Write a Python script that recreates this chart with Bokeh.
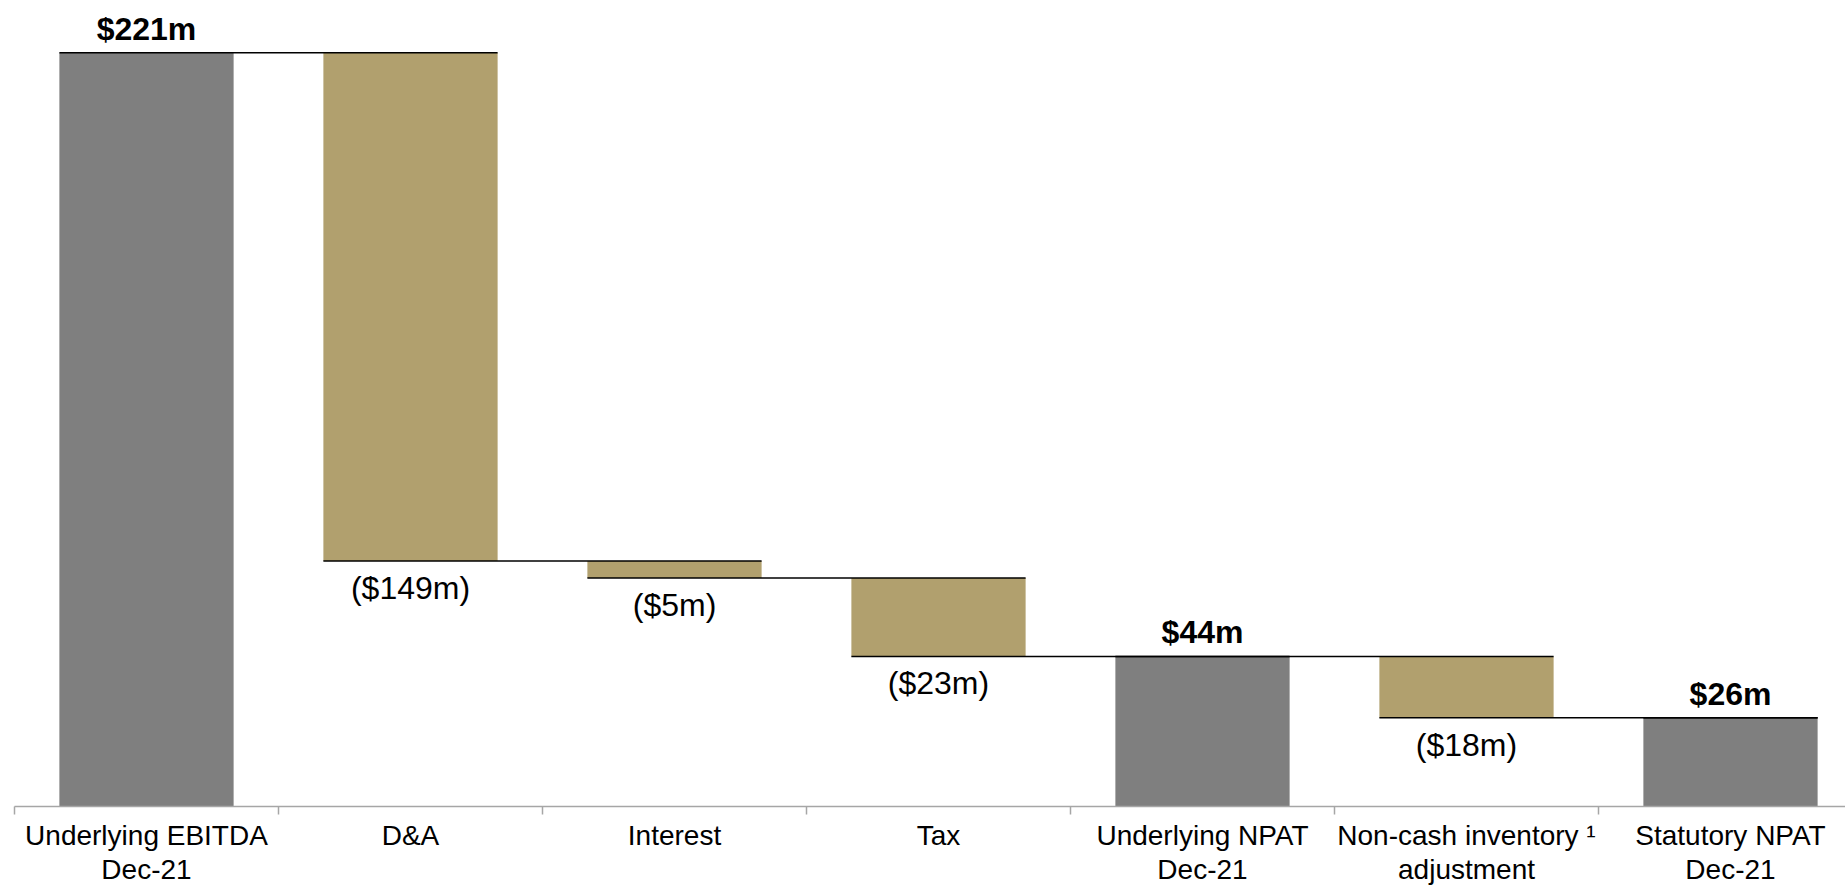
from bokeh.plotting import figure
from bokeh.models import Range1d, FixedTicker, ColumnDataSource
from bokeh.embed import file_html
from bokeh.resources import INLINE
from bokeh.core.properties import value

# ---- data ----
categories = [
    "Underlying EBITDA\nDec-21",
    "D&A",
    "Interest",
    "Tax",
    "Underlying NPAT\nDec-21",
    "Non-cash inventory \u00b9\nadjustment",
    "Statutory NPAT\nDec-21",
]
values = [221, -149, -5, -23, 44, -18, 26]
is_total = [True, False, False, False, True, False, True]
value_labels = ["$221m", "($149m)", "($5m)", "($23m)", "$44m", "($18m)", "$26m"]

GREY = "#7F7F7F"
GOLD = "#B1A06E"
BAR_W = 0.66

# ---- derived geometry from data ----
n = len(values)
xs = [i + 0.5 for i in range(n)]
tops, bottoms, after = [], [], []
running = 0
for v, t in zip(values, is_total):
    if t:
        bottoms.append(0)
        tops.append(v)
        running = v
    else:
        tops.append(running)
        bottoms.append(running + v)
        running += v
    after.append(running)
colors = [GREY if t else GOLD for t in is_total]

bars = ColumnDataSource(dict(x=xs, top=tops, bottom=bottoms, color=colors))

# connectors: level after bar i, from left edge of bar i to right edge of bar i+1
sx0, sx1, sy = [], [], []
for i in range(n):
    j = min(i + 1, n - 1)
    sx0.append(xs[i] - BAR_W / 2)
    sx1.append(xs[j] + BAR_W / 2)
    sy.append(after[i])

PX_PER_CAT = 264.0
Y_END = 236.3
p = figure(
    width=1845, height=888,
    x_range=Range1d(0, (1845 - 14) / PX_PER_CAT),
    y_range=Range1d(0, Y_END),
    output_backend="svg", toolbar_location=None,
    min_border_left=14, min_border_right=0, min_border_top=0, min_border_bottom=0,
    y_axis_location=None,
)
p.outline_line_color = None
p.xgrid.grid_line_color = None
p.ygrid.grid_line_color = None
p.background_fill_color = "white"
p.border_fill_color = "white"

p.vbar(x="x", top="top", bottom="bottom", width=BAR_W, fill_color="color",
       line_color=None, source=bars)
p.segment(x0=sx0, y0=sy, x1=sx1, y1=sy, line_color="black", line_width=1.5)

tot_x = [xs[i] for i in range(n) if is_total[i]]
tot_y = [tops[i] for i in range(n) if is_total[i]]
tot_t = [value_labels[i] for i in range(n) if is_total[i]]
dec_x = [xs[i] for i in range(n) if not is_total[i]]
dec_y = [bottoms[i] for i in range(n) if not is_total[i]]
dec_t = [value_labels[i] for i in range(n) if not is_total[i]]

p.text(x=tot_x, y=tot_y, text=tot_t, y_offset=-24, text_align="center",
       text_baseline="middle", text_font=value("Liberation Sans"),
       text_font_size="32px", text_font_style="bold", text_color="black")
p.text(x=dec_x, y=dec_y, text=dec_t, y_offset=27, text_align="center",
       text_baseline="middle", text_font=value("Liberation Sans"),
       text_font_size="32px", text_color="black")

ax = p.xaxis[0]
ax.ticker = FixedTicker(ticks=xs, minor_ticks=list(range(n + 1)))
ax.major_label_overrides = {x: c for x, c in zip(xs, categories)}
ax.major_tick_line_color = None
ax.major_tick_out = 0
ax.major_tick_in = 0
ax.minor_tick_line_color = "#A6A6A6"
ax.minor_tick_line_width = 1.5
ax.minor_tick_out = 8
ax.minor_tick_in = 0
ax.axis_line_color = "#A6A6A6"
ax.axis_line_width = 1.5
ax.major_label_text_font = "Liberation Sans"
ax.major_label_text_font_size = "28px"
ax.major_label_text_color = "black"
ax.major_label_text_line_height = 1.12
ax.major_label_standoff = 5

open("out.html", "w").write(file_html(p, INLINE))
